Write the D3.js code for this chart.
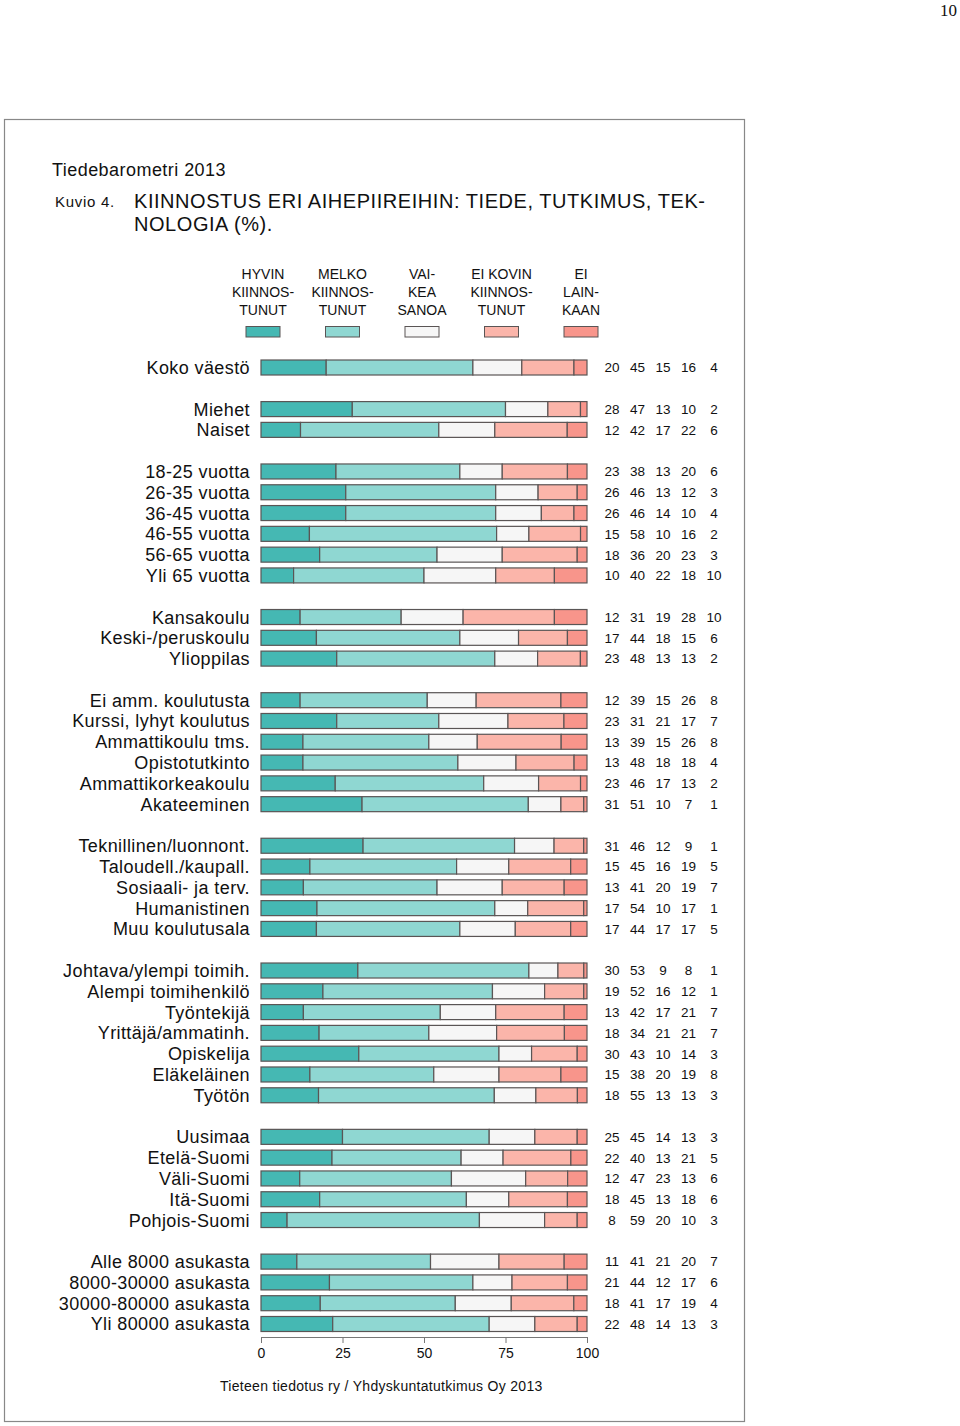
<!DOCTYPE html>
<html><head><meta charset="utf-8">
<script src="https://cdn.jsdelivr.net/npm/d3@7"></script>
<style>
html,body{margin:0;padding:0;background:#fff;}
svg text{font-family:"Liberation Sans",Arial,sans-serif;fill:#111;}
</style></head>
<body>
<svg id="chart" width="960" height="1426"></svg>
<script>
const categories = ["Koko väestö","Miehet","Naiset","18-25 vuotta","26-35 vuotta","36-45 vuotta","46-55 vuotta","56-65 vuotta","Yli 65 vuotta","Kansakoulu","Keski-/peruskoulu","Ylioppilas","Ei amm. koulutusta","Kurssi, lyhyt koulutus","Ammattikoulu tms.","Opistotutkinto","Ammattikorkeakoulu","Akateeminen","Teknillinen/luonnont.","Taloudell./kaupall.","Sosiaali- ja terv.","Humanistinen","Muu koulutusala","Johtava/ylempi toimih.","Alempi toimihenkilö","Työntekijä","Yrittäjä/ammatinh.","Opiskelija","Eläkeläinen","Työtön","Uusimaa","Etelä-Suomi","Väli-Suomi","Itä-Suomi","Pohjois-Suomi","Alle 8000 asukasta","8000-30000 asukasta","30000-80000 asukasta","Yli 80000 asukasta"];
const groupSizes = [1,2,6,3,6,5,7,5,4];
const hyvin      = [20,28,12,23,26,26,15,18,10,12,17,23,12,23,13,13,23,31,31,15,13,17,17,30,19,13,18,30,15,18,25,22,12,18,8,11,21,18,22];
const melko      = [45,47,42,38,46,46,58,36,40,31,44,48,39,31,39,48,46,51,46,45,41,54,44,53,52,42,34,43,38,55,45,40,47,45,59,41,44,41,48];
const vaikea     = [15,13,17,13,13,14,10,20,22,19,18,13,15,21,15,18,17,10,12,16,20,10,17,9,16,17,21,10,20,13,14,13,23,13,20,21,12,17,14];
const eiKovin    = [16,10,22,20,12,10,16,23,18,28,15,13,26,17,26,18,13,7,9,19,19,17,17,8,12,21,21,14,19,13,13,21,13,18,10,20,17,19,13];
const eiLainkaan = [4,2,6,6,3,4,2,3,10,10,6,2,8,7,8,4,2,1,1,5,7,1,5,1,1,7,7,3,8,3,3,5,6,6,3,7,6,4,3];
const seriesKeys = ["hyvin","melko","vaikea","eiKovin","eiLainkaan"];
const legendLabels = [["HYVIN","KIINNOS-","TUNUT"],["MELKO","KIINNOS-","TUNUT"],["VAI-","KEA","SANOA"],["EI KOVIN","KIINNOS-","TUNUT"],["EI","LAIN-","KAAN"]];
const tickValues = [0,25,50,75,100];
const colors = ["#45b8b3","#8fd7d2","#f6f6f6","#fbb5aa","#f8958b"];

const svg = d3.select("#chart");

// page number and frame
svg.append("text").attr("x",957).attr("y",16).attr("text-anchor","end")
  .style("font-family","'Liberation Serif','DejaVu Serif',serif").style("font-size","17px").text("10");
svg.append("rect").attr("x",4.5).attr("y",119.5).attr("width",740).attr("height",1302)
  .attr("fill","none").attr("stroke","#888").attr("stroke-width",1.2);

svg.append("text").attr("x",52).attr("y",176).style("font-size","18px").style("letter-spacing","0.45px").text("Tiedebarometri 2013");
svg.append("text").attr("x",55).attr("y",207).style("font-size","15px").style("letter-spacing","0.7px").text("Kuvio 4.");
svg.append("text").attr("x",134).attr("y",208).style("font-size","20px").style("letter-spacing","0.55px").text("KIINNOSTUS ERI AIHEPIIREIHIN: TIEDE, TUTKIMUS, TEK-");
svg.append("text").attr("x",134).attr("y",231).style("font-size","20px").style("letter-spacing","0.55px").text("NOLOGIA (%).");

// data rows
const data = categories.map((c,i)=>({cat:c,hyvin:hyvin[i],melko:melko[i],vaikea:vaikea[i],eiKovin:eiKovin[i],eiLainkaan:eiLainkaan[i]}));
// slot index with group gaps
const slotOf = [];
let s = 0;
groupSizes.forEach((g,gi)=>{ for(let k=0;k<g;k++){ slotOf.push(s); s++; } s++; });
const nSlots = slotOf[slotOf.length-1];

const x = d3.scaleLinear().domain([0,1]).range([261,587]);
const y = d3.scaleLinear().domain([0,nSlots]).range([367.5,1324]);
const color = d3.scaleOrdinal().domain(seriesKeys).range(colors);
const barH = 15;

const stacked = d3.stack().keys(seriesKeys).offset(d3.stackOffsetExpand)(data);

const g = svg.append("g");
stacked.forEach(layer=>{
  g.selectAll(null).data(layer).enter().append("rect")
    .attr("x",d=>x(d[0]))
    .attr("width",d=>Math.max(0,x(d[1])-x(d[0])))
    .attr("y",(d,i)=>y(slotOf[i])-barH/2)
    .attr("height",barH)
    .attr("fill",color(layer.key))
    .attr("stroke","#5a5555").attr("stroke-width",1.2);
});

// category labels
svg.selectAll(".cat").data(data).enter().append("text")
  .attr("x",250).attr("y",(d,i)=>y(slotOf[i])).attr("dy","0.36em")
  .attr("text-anchor","end").style("font-size","18px").style("letter-spacing","0.4px").text(d=>d.cat);

// value columns
const colX = d3.scalePoint().domain(seriesKeys).range([612,714]);
data.forEach((d,i)=>{
  seriesKeys.forEach(k=>{
    svg.append("text").attr("x",colX(k)).attr("y",y(slotOf[i])).attr("dy","0.36em")
      .attr("text-anchor","middle").style("font-size","13.5px").text(d[k]);
  });
});

// legend
const legX = d3.scalePoint().domain(seriesKeys).range([263,581]);
seriesKeys.forEach((k,i)=>{
  legendLabels[i].forEach((t,j)=>{
    svg.append("text").attr("x",legX(k)).attr("y",274+j*18).attr("dy","0.36em")
      .attr("text-anchor","middle").style("font-size","14px").text(t);
  });
  svg.append("rect").attr("x",legX(k)-17).attr("y",326.5).attr("width",34).attr("height",10.5)
    .attr("fill",color(k)).attr("stroke","#5a5555").attr("stroke-width",1);
});

// axis
const xAxisScale = d3.scaleLinear().domain([0,100]).range([261,587]);
const axis = svg.append("g").attr("transform","translate(0,1337)")
  .call(d3.axisBottom(xAxisScale).tickValues(tickValues).tickSize(6).tickPadding(5));
axis.select(".domain").attr("stroke","#777");
axis.selectAll(".tick line").attr("stroke","#777");
axis.selectAll(".tick text").style("font-size","14px").style("font-family","'Liberation Sans',Arial,sans-serif").attr("fill","#111");

svg.append("text").attr("x",220).attr("y",1391).style("font-size","14px").style("letter-spacing","0.3px").text("Tieteen tiedotus ry / Yhdyskuntatutkimus Oy 2013");
</script>
</body></html>
